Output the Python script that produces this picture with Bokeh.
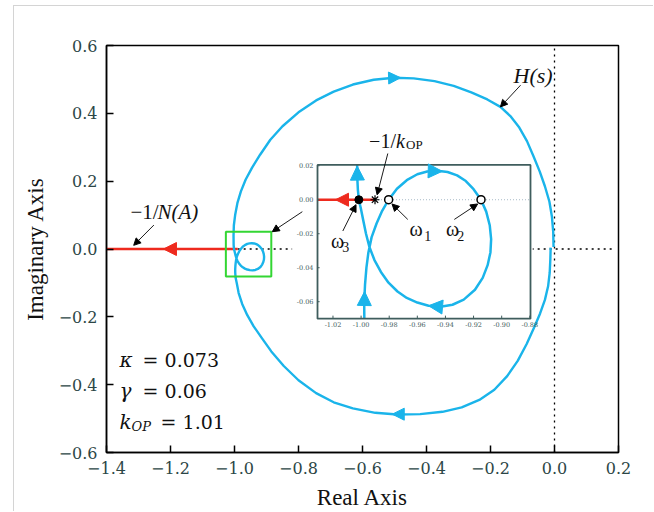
from bokeh.plotting import figure
from bokeh.models import Range1d, FixedTicker, Arrow, NormalHead, Label, BoxAnnotation
from bokeh.core.properties import value
from bokeh.embed import file_html
from bokeh.resources import INLINE

# ---------------- data ----------------
# H(s) Nyquist locus (clockwise), split into 3 pieces
H_LOW_X = [-0.012, -0.013, -0.015, -0.020, -0.030, -0.045, -0.063, -0.087, -0.115, -0.148,
           -0.188, -0.235, -0.290, -0.350, -0.420, -0.492, -0.560, -0.630, -0.690, -0.745,
           -0.800, -0.846, -0.885, -0.915, -0.940, -0.960, -0.976, -0.987, -0.993, -0.9965]
H_LOW_Y = [0.004, -0.030, -0.070, -0.110, -0.150, -0.190, -0.230, -0.280, -0.330, -0.375,
           -0.415, -0.445, -0.467, -0.480, -0.487, -0.488, -0.483, -0.470, -0.452, -0.425,
           -0.387, -0.345, -0.302, -0.262, -0.228, -0.195, -0.162, -0.130, -0.100, -0.085]
H_LOOP_X = [-0.9977, -0.9978, -0.9972, -0.9962, -0.9948, -0.9925, -0.9890, -0.9850, -0.9804,
            -0.9745, -0.9675, -0.9600, -0.9530, -0.9458, -0.9385, -0.9317, -0.9255, -0.9200,
            -0.9147, -0.9110, -0.9085, -0.9075, -0.9080, -0.9100, -0.9135, -0.9190, -0.9270,
            -0.9350, -0.9435, -0.9520, -0.9600, -0.9675, -0.9741, -0.9805, -0.9859, -0.9905,
            -0.9940, -0.9965, -0.9985, -1.0002, -1.0016, -1.0023, -1.0027, -1.0028]
H_LOOP_Y = [-0.0700, -0.0600, -0.0500, -0.0400, -0.0310, -0.0220, -0.0140, -0.0065, 0.0,
            0.0065, 0.0115, 0.0150, 0.0166, 0.0170, 0.0163, 0.0143, 0.0110, 0.0062,
            0.0, -0.0070, -0.0150, -0.0232, -0.0310, -0.0385, -0.0460, -0.0530, -0.0588,
            -0.0618, -0.0630, -0.0624, -0.0605, -0.0578, -0.0540, -0.0488, -0.0425, -0.0355,
            -0.0280, -0.0200, -0.0120, -0.0050, 0.0, 0.0060, 0.0130, 0.0205]
H_UP_X = [-1.003, -1.002, -0.998, -0.991, -0.980, -0.965, -0.945, -0.920, -0.888, -0.850,
          -0.800, -0.745, -0.690, -0.630, -0.565, -0.502, -0.440, -0.375, -0.315, -0.260,
          -0.210, -0.169, -0.138, -0.110, -0.086, -0.065, -0.046, -0.030, -0.016, -0.008,
          -0.004, -0.003]
H_UP_Y = [0.040, 0.070, 0.100, 0.135, 0.170, 0.205, 0.240, 0.278, 0.322, 0.362,
          0.403, 0.438, 0.464, 0.485, 0.499, 0.505, 0.503, 0.495, 0.481, 0.462,
          0.441, 0.419, 0.392, 0.358, 0.318, 0.272, 0.228, 0.185, 0.140, 0.095,
          0.050, 0.006]

KOP = 1.01                      # -1/k_OP point
NA_X = [-1.4, -1.0 / KOP]       # -1/N(A) locus on the negative real axis
NA_Y = [0.0, 0.0]
OMEGA_OPEN_X = [-0.9804, -0.9147]   # omega1, omega2
OMEGA_OPEN_Y = [0.0, 0.0]
OMEGA3_X = [-1.0016]
OMEGA3_Y = [0.0]

X_TICKS = [-1.4, -1.2, -1.0, -0.8, -0.6, -0.4, -0.2, 0.0, 0.2]
X_LABELS = ["−1.4", "−1.2", "−1.0", "−0.8", "−0.6", "−0.4", "−0.2", "0.0", "0.2"]
Y_TICKS = [-0.6, -0.4, -0.2, 0.0, 0.2, 0.4, 0.6]
Y_LABELS = ["−0.6", "−0.4", "−0.2", "0.0", "0.2", "0.4", "0.6"]
INSET_X_TICKS = [-1.02, -1.00, -0.98, -0.96, -0.94, -0.92, -0.90, -0.88]
INSET_X_LABELS = ["-1.02", "-1.00", "-0.98", "-0.96", "-0.94", "-0.92", "-0.90", "-0.88"]
INSET_Y_TICKS = [0.02, 0.0, -0.02, -0.04, -0.06]
INSET_Y_LABELS = ["0.02", "0.00", "-0.02", "-0.04", "-0.06"]

# ---------------- layout / style ----------------
BLUE = "#1ab4ea"
RED = "#ee2a1e"
GREEN = "#33d633"
FRAME_INSET = "#3f5d5d"
TICK_COLOR = "#2c4646"
SERIF = "Liberation Serif"
TICK_FONT = "DejaVu Serif"

INSET_XLIM = (-1.031, -0.8795)
INSET_YLIM = (-0.070, 0.0205)
INSET_POS_X = (-0.7406, -0.075)     # where the inset frame sits, main units
INSET_POS_Y = (-0.2055, 0.248)
ZOOM_BOX = dict(left=-1.027, right=-0.885, bottom=-0.081, top=0.051)


def im(x, y):
    fx = (x - INSET_XLIM[0]) / (INSET_XLIM[1] - INSET_XLIM[0])
    fy = (y - INSET_YLIM[0]) / (INSET_YLIM[1] - INSET_YLIM[0])
    return (INSET_POS_X[0] + fx * (INSET_POS_X[1] - INSET_POS_X[0]),
            INSET_POS_Y[0] + fy * (INSET_POS_Y[1] - INSET_POS_Y[0]))


p = figure(width=640, height=506, x_range=Range1d(-1.4, 0.2), y_range=Range1d(-0.6, 0.6),
           output_backend="svg", toolbar_location=None,
           min_border_left=92, min_border_right=36, min_border_top=39, min_border_bottom=54)
p.margin = (5, 0, 0, 13)
p.styles = {"border-top": "1px solid #d4d4d4", "border-left": "1px solid #d4d4d4"}
p.xgrid.visible = False
p.ygrid.visible = False
p.outline_line_color = "black"
p.outline_line_width = 1.5
p.background_fill_color = "white"
p.border_fill_color = "white"

for ax, ticks, labels in ((p.xaxis, X_TICKS, X_LABELS), (p.yaxis, Y_TICKS, Y_LABELS)):
    ax.ticker = FixedTicker(ticks=ticks)
    ax.major_label_overrides = dict(zip(ticks, labels))
    ax.minor_tick_line_color = None
    ax.major_tick_in = 7
    ax.major_tick_out = 0
    ax.major_tick_line_width = 1.5
    ax.axis_line_width = 1.5
    ax.major_label_text_font = TICK_FONT
    ax.major_label_text_font_size = "16px"
    ax.major_label_text_color = TICK_COLOR
    ax.major_label_standoff = 9
    ax.axis_label_text_font = SERIF
    ax.axis_label_text_font_style = "normal"
    ax.axis_label_text_font_size = "23px"
    ax.axis_label_text_color = "#111111"
    ax.axis_label_standoff = 8
p.xaxis.axis_label = "Real Axis"
p.yaxis.axis_label = "Imaginary Axis"

# dotted reference axes
p.line([0.0, 0.0], [-0.6, 0.6], line_color="black", line_dash="2 4", line_width=1.3)
p.line([-1.0 / KOP, 0.19], [0.0, 0.0], line_color="black", line_dash="2 4", line_width=1.3)

# -1/N(A)
p.line(NA_X, NA_Y, line_color=RED, line_width=2.5)

# inset white background (frame + tick labels)
p.quad(left=-0.82, right=-0.068, bottom=-0.245, top=0.255, fill_color="white", line_color=None)

# main H(s)
HX = H_LOW_X + H_LOOP_X + H_UP_X
HY = H_LOW_Y + H_LOOP_Y + H_UP_Y
p.line(HX, HY, line_color=BLUE, line_width=2.4, line_join="round")

p.add_layout(BoxAnnotation(fill_alpha=0, line_color=GREEN, line_alpha=1.0, line_width=2, **ZOOM_BOX))

# ---------------- inset ----------------
sub = p.subplot(x_source=Range1d(*INSET_XLIM), y_source=Range1d(*INSET_YLIM),
                x_target=Range1d(*INSET_POS_X), y_target=Range1d(*INSET_POS_Y))

sub.line([-1.0 / KOP, INSET_XLIM[1]], [0.0, 0.0], line_color="#a9bcc8", line_dash="1 2", line_width=1)
sub.line([INSET_XLIM[0], -1.0 / KOP], [0.0, 0.0], line_color=RED, line_width=2.5)
sub.line(H_LOOP_X, H_LOOP_Y, line_color=BLUE, line_width=2.5, line_join="round")
sub.scatter([-1.0 / KOP], [0.0], marker="asterisk", size=9, line_color="black", line_width=1.2)
sub.scatter(OMEGA_OPEN_X, OMEGA_OPEN_Y, marker="circle", size=8, fill_color="white",
            line_color="black", line_width=1.5)
sub.scatter(OMEGA3_X, OMEGA3_Y, marker="circle", size=8, fill_color="black", line_color="black")

sub.quad(left=INSET_XLIM[0], right=INSET_XLIM[1], bottom=INSET_YLIM[0], top=INSET_YLIM[1],
         fill_color=None, line_color=FRAME_INSET, line_width=1.8)
sub.segment(x0=INSET_X_TICKS, y0=[INSET_YLIM[0]] * len(INSET_X_TICKS),
            x1=INSET_X_TICKS, y1=[INSET_YLIM[0] + 0.0018] * len(INSET_X_TICKS),
            line_color=FRAME_INSET, line_width=1)
sub.segment(x0=[INSET_XLIM[0]] * len(INSET_Y_TICKS), y0=INSET_Y_TICKS,
            x1=[INSET_XLIM[0] + 0.0015] * len(INSET_Y_TICKS), y1=INSET_Y_TICKS,
            line_color=FRAME_INSET, line_width=1)
sub.text(x=INSET_X_TICKS, y=[INSET_YLIM[0]] * len(INSET_X_TICKS), text=INSET_X_LABELS,
         y_offset=3, text_align="center", text_baseline="top", text_font=value(TICK_FONT),
         text_font_size="6.5px", text_color=FRAME_INSET)
sub.text(x=[INSET_XLIM[0]] * len(INSET_Y_TICKS), y=INSET_Y_TICKS, text=INSET_Y_LABELS,
         x_offset=-4, text_align="right", text_baseline="middle", text_font=value(TICK_FONT),
         text_font_size="6.5px", text_color=FRAME_INSET)

# omega labels (inset units)
sub.text(x=[-0.9609, -0.9350, -1.0167], y=[-0.0174, -0.0174, -0.0241], text=["ω", "ω", "ω"],
         text_align="center", text_baseline="middle", text_font=value(SERIF),
         text_font_size="20px", text_color="#111111")
sub.text(x=[-0.9525, -0.9291, -1.0110], y=[-0.0215, -0.0215, -0.0276], text=["1", "2", "3"],
         text_align="center", text_baseline="middle", text_font=value(SERIF),
         text_font_size="14px", text_color="#111111")


def arrow(x0, y0, x1, y1, color="black", size=7, lw=0.9, show_line=True):
    p.add_layout(Arrow(end=NormalHead(size=size, fill_color=color, line_color=color, line_width=1),
                       x_start=x0, y_start=y0, x_end=x1, y_end=y1,
                       line_color=color, line_width=lw, line_alpha=1.0 if show_line else 0.0))


def iarrow(a, b, c, d, **kw):
    x0, y0 = im(a, b)
    x1, y1 = im(c, d)
    arrow(x0, y0, x1, y1, **kw)


# direction heads on H(s)
arrow(-0.52, 0.504, -0.481, 0.505, color=BLUE, size=12, show_line=False)
arrow(-0.47, -0.487, -0.507, -0.487, color=BLUE, size=12, show_line=False)
iarrow(-0.950, 0.0169, -0.9423, 0.0167, color=BLUE, size=14, show_line=False)
iarrow(-0.944, -0.0630, -0.952, -0.0624, color=BLUE, size=14, show_line=False)
iarrow(-0.9978, -0.066, -0.9975, -0.054, color=BLUE, size=14, show_line=False)
iarrow(-1.0026, 0.010, -1.0028, 0.0198, color=BLUE, size=14, show_line=False)
# -1/N(A) direction
arrow(-1.17, 0.0, -1.222, 0.0, color=RED, size=13, show_line=False)
iarrow(-1.010, 0.0, -1.0182, 0.0, color=RED, size=13, show_line=False)

# pointers
arrow(-0.106, 0.483, -0.169, 0.419)                 # H(s)
arrow(-1.252, 0.0706, -1.315, 0.0108)               # -1/N(A)
arrow(-0.788, 0.110, -0.882, 0.051)                 # zoom box -> inset
iarrow(-0.9668, -0.0116, -0.9780, -0.0025)          # omega1
iarrow(-0.9337, -0.0116, -0.9171, -0.0025)          # omega2
iarrow(-1.0130, -0.0184, -1.0036, -0.0029)          # omega3
iarrow(-0.9810, 0.0272, -0.9886, 0.0029)            # -1/kOP


def label(x, y, text, size="20px", style="normal", font=SERIF, align="left", xo=0, yo=0):
    p.add_layout(Label(x=x, y=y, text=text, text_font=font, text_font_size=size,
                       text_font_style=style, text_align=align, text_baseline="middle",
                       x_offset=xo, y_offset=yo, text_color="#111111"))


label(-0.067, 0.512, "H(s)", size="22px", style="italic", align="center")
label(-1.325, 0.109, "−1/", size="21px")
label(-1.325, 0.109, "N(A)", size="21px", style="italic", xo=27)
kx, ky = im(-0.9943, 0.0346)
label(kx, ky, "−1/", size="20px")
label(kx, ky, "k", size="20px", style="italic", xo=27)
label(kx, ky, "OP", size="13px", xo=37, yo=-4)

MATH = "DejaVu Serif"
label(-1.359, -0.328, "κ", size="20px", style="italic", font=MATH)
label(-1.359, -0.328, "= 0.073", size="19px", font=MATH, xo=23)
label(-1.359, -0.419, "γ", size="20px", style="italic", font=MATH)
label(-1.359, -0.419, "= 0.06", size="19px", font=MATH, xo=23)
label(-1.359, -0.509, "k", size="20px", style="italic", font=MATH)
label(-1.359, -0.509, "OP", size="13px", style="italic", font=MATH, xo=12, yo=-5)
label(-1.359, -0.509, "= 1.01", size="19px", font=MATH, xo=41)

open("out.html", "w").write(file_html(p, INLINE))
